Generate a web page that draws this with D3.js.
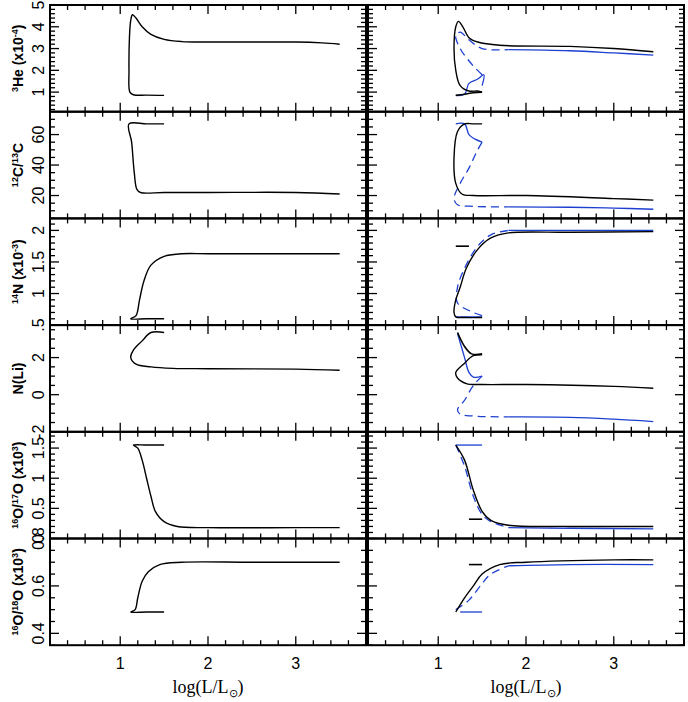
<!DOCTYPE html>
<html>
<head>
<meta charset="UTF-8">
<script src="https://d3js.org/d3.v7.min.js"></script>
<style>body{margin:0;background:#fff}</style>
</head>
<body>
<div id="chart"></div>
<script>
// row labels and axis setup
const rowLabels = [
  ["3","He (x10","-4",")"],
  ["12","C/","13","C"],
  ["14","N (x10","-3",")"],
  ["","N(Li)","",""],
  ["16","O/","17","O (x10","3",")"],
  ["16","O/","18","O (x10","3",")"]
];
const yDomains = [[0.1, 5], [5, 75], [0.5, 2.19], [-2, 3.75], [0, 1.77], [0.35, 0.8]];
const yMajor = [[1,2,3,4,5],[20,40,60],[0.5,1,1.5,2],[-2,0,2],[0,0.5,1,1.5],[0.4,0.6,0.8]];
const yMinorStep = [0.2, 5, 0.1, 0.5, 0.1, 0.05];
const yTickText = [["1","2","3","4","5"],["20","40","60"],[".5","1","1.5","2"],["-2","0","2"],["0","0.5","1","1.5"],["0.4","0.6","0.8"]];
const xTicks = [1, 2, 3];

// left panel curves (black)
const leftBlack = [
  [[1.5,0.85],[1.3,0.86],[1.15,0.88],[1.11,1.0],[1.1,2],[1.105,3.5],[1.12,4.3],[1.14,4.55],[1.18,4.4],[1.25,4.0],[1.35,3.65],[1.5,3.42],[1.7,3.32],[2,3.3],[2.5,3.3],[3,3.3],[3.3,3.26],[3.5,3.2]],
  [[1.5,67],[1.3,67],[1.1,67],[1.13,55],[1.16,35],[1.19,24],[1.23,22],[1.5,22],[2,22],[3,22],[3.5,21]],
  [[1.5,0.6],[1.3,0.6],[1.12,0.6],[1.18,0.65],[1.22,0.9],[1.27,1.2],[1.35,1.45],[1.5,1.59],[1.7,1.63],[2,1.63],[3,1.63],[3.5,1.63]],
  [[1.5,3.35],[1.35,3.35],[1.25,2.9],[1.15,2.4],[1.12,2.0],[1.18,1.65],[1.35,1.5],[1.6,1.42],[2,1.4],[3,1.38],[3.5,1.32]],
  [[1.5,1.55],[1.3,1.55],[1.15,1.55],[1.2,1.5],[1.25,1.3],[1.3,1.0],[1.35,0.7],[1.4,0.45],[1.5,0.28],[1.65,0.2],[2,0.18],[3,0.18],[3.5,0.18]],
  [[1.5,0.49],[1.3,0.49],[1.12,0.49],[1.17,0.5],[1.2,0.55],[1.25,0.62],[1.32,0.66],[1.45,0.69],[1.7,0.7],[2.5,0.7],[3.5,0.7]]
];

// right panel curves
const rightBlack = [
  [[1.5,1.0],[1.45,1.05],[1.35,1.05],[1.25,1.3],[1.2,2],[1.18,3],[1.2,4.0],[1.23,4.25],[1.28,4.0],[1.35,3.5],[1.45,3.3],[1.7,3.15],[2.5,3.1],[3,3.0],[3.45,2.85]],
  [[1.5,67],[1.4,67],[1.3,67],[1.22,62],[1.18,45],[1.2,28],[1.27,21],[1.4,20],[2,20],[3,18],[3.45,17]],
  [[1.5,0.62],[1.3,0.62],[1.2,0.63],[1.18,0.7],[1.2,0.9],[1.25,1.1],[1.32,1.4],[1.45,1.7],[1.6,1.88],[1.8,1.96],[2.5,1.97],[3.45,1.98]],
  [[1.5,2.15],[1.4,2.1],[1.3,1.7],[1.2,1.2],[1.22,0.9],[1.32,0.6],[1.5,0.55],[2,0.55],[3,0.45],[3.45,0.35]],
  [[1.2,1.55],[1.3,1.3],[1.4,0.8],[1.5,0.45],[1.6,0.3],[1.8,0.22],[2.5,0.2],[3.45,0.2]],
  [[1.2,0.49],[1.3,0.55],[1.4,0.6],[1.5,0.65],[1.7,0.69],[2,0.7],[3,0.71],[3.45,0.71]]
];
const rightBlackExtra = [
  [[1.2,0.85],[1.3,0.9],[1.4,0.97],[1.5,1.0]],
  [],
  [[1.2,1.75],[1.35,1.75]],
  [[1.22,3.35],[1.3,2.6],[1.38,2.2],[1.5,2.2]],
  [[1.35,0.32],[1.5,0.32]],
  [[1.35,0.69],[1.5,0.69]]
];
const rightBlueSolid = [
  [[1.2,0.85],[1.3,0.9],[1.35,1.4],[1.45,1.6],[1.52,1.8],[1.5,1.3]],
  [[1.2,67],[1.3,67],[1.35,60],[1.42,57],[1.5,55]],
  [[1.5,0.63],[1.3,0.63],[1.2,0.63]],
  [[1.22,3.3],[1.3,2.0],[1.35,1.2],[1.4,0.95],[1.5,1.0]],
  [[1.2,1.55],[1.5,1.55]],
  [[1.25,0.49],[1.5,0.49]]
];
const rightBlueDashed = [
  [[1.5,1.8],[1.4,2.2],[1.25,3.0],[1.2,3.6],[1.25,3.75],[1.35,3.4],[1.5,3.0],[1.8,2.95]],
  [[1.5,55],[1.45,50],[1.35,38],[1.25,28],[1.18,18],[1.22,14],[1.35,13],[1.8,12.5]],
  [[1.5,0.65],[1.4,0.7],[1.22,0.85],[1.22,1.1],[1.3,1.4],[1.45,1.75],[1.6,1.93],[1.8,2.0]],
  [[1.5,1.0],[1.4,0.5],[1.3,-0.3],[1.22,-0.8],[1.25,-1.05],[1.4,-1.15],[1.8,-1.2]],
  [[1.2,1.55],[1.3,1.2],[1.4,0.7],[1.5,0.4],[1.6,0.28],[1.8,0.18]],
  [[1.2,0.5],[1.35,0.54],[1.5,0.61],[1.6,0.65],[1.8,0.685]]
];
const rightBlueTail = [
  [[1.8,2.95],[2.5,2.9],[3,2.8],[3.45,2.7]],
  [[1.8,12.5],[2.5,12.3],[3,11.8],[3.45,11]],
  [[1.8,2.0],[2.5,2.0],[3.45,2.0]],
  [[1.8,-1.2],[2.5,-1.22],[3,-1.32],[3.45,-1.45]],
  [[1.8,0.18],[2.5,0.17],[3.45,0.16]],
  [[1.8,0.685],[2.5,0.69],[3.45,0.69]]
];

const W = 688, H = 702;
const panelX = [50, 368], panelW = 316;
const top0 = 5, rowH = 106.7;
const blue = "#1c3fd0";

const svg = d3.select("#chart").append("svg").attr("width", W).attr("height", H);

const x = d3.scaleLinear().domain([0.2, 3.8]);
const line = d3.line().curve(d3.curveCatmullRom.alpha(0.5));

for (let r = 0; r < 6; r++) {
  const y0 = top0 + r * rowH;
  const y = d3.scaleLinear().domain(yDomains[r]).range([y0 + rowH, y0]);
  const minor = d3.range(Math.ceil(yDomains[r][0] / yMinorStep[r]) * yMinorStep[r], yDomains[r][1], yMinorStep[r]);

  for (let p = 0; p < 2; p++) {
    const xs = x.copy().range([panelX[p], panelX[p] + panelW]);
    const g = svg.append("g");
    const xMinor = d3.range(0.2, 3.81, 0.2);

    xMinor.forEach(v => {
      const big = Math.abs(v - Math.round(v)) < 1e-6;
      const L = big ? 9 : 5;
      g.append("line").attr("x1", xs(v)).attr("x2", xs(v)).attr("y1", y0).attr("y2", y0 + L).attr("stroke", "#000").attr("stroke-width", 1.3);
      g.append("line").attr("x1", xs(v)).attr("x2", xs(v)).attr("y1", y0 + rowH).attr("y2", y0 + rowH - L).attr("stroke", "#000").attr("stroke-width", 1.3);
    });
    minor.forEach(v => {
      const big = yMajor[r].some(m => Math.abs(m - v) < 1e-6);
      const L = big ? 9 : 5;
      g.append("line").attr("x1", panelX[p]).attr("x2", panelX[p] + L).attr("y1", y(v)).attr("y2", y(v)).attr("stroke", "#000").attr("stroke-width", 1.3);
      g.append("line").attr("x1", panelX[p] + panelW).attr("x2", panelX[p] + panelW - L).attr("y1", y(v)).attr("y2", y(v)).attr("stroke", "#000").attr("stroke-width", 1.3);
    });

    const draw = (data, color, dash, w) => {
      if (!data.length) return;
      g.append("path").attr("d", line(data.map(d => [xs(d[0]), y(d[1])])))
        .attr("fill", "none").attr("stroke", color).attr("stroke-width", w)
        .attr("stroke-dasharray", dash);
    };
    if (p === 0) {
      draw(leftBlack[r], "#000", null, 1.4);
    } else {
      draw(rightBlueSolid[r], blue, null, 1.3);
      draw(rightBlueDashed[r], blue, "8,5", 1.3);
      draw(rightBlueTail[r], blue, null, 1.3);
      draw(rightBlack[r], "#000", null, 1.4);
      draw(rightBlackExtra[r], "#000", null, 1.6);
    }

    g.append("rect").attr("x", panelX[p]).attr("y", y0).attr("width", panelW).attr("height", rowH)
      .attr("fill", "none").attr("stroke", "#000").attr("stroke-width", 2);
  }

  yMajor[r].forEach((v, i) => {
    svg.append("text").attr("transform", `translate(44,${y(v)}) rotate(-90)`)
      .attr("text-anchor", "middle").attr("font-family", "Liberation Sans, Arial")
      .attr("font-size", 16).text(yTickText[r][i]);
  });

  const lab = svg.append("text").attr("transform", `translate(23,${y0 + rowH / 2}) rotate(-90)`)
    .attr("text-anchor", "middle").attr("font-family", "Liberation Sans, Arial")
    .attr("font-size", 14).attr("font-weight", "bold");
  rowLabels[r].forEach((s, i) => {
    if (!s) return;
    const sup = i % 2 === 0;
    lab.append("tspan").attr("font-size", sup ? 9 : 14).attr("baseline-shift", sup ? "super" : null).text(s);
  });
}

const bottom = top0 + 6 * rowH;
for (let p = 0; p < 2; p++) {
  const xs = x.copy().range([panelX[p], panelX[p] + panelW]);
  xTicks.forEach(v => {
    svg.append("text").attr("x", xs(v)).attr("y", bottom + 24).attr("text-anchor", "middle")
      .attr("font-family", "Liberation Sans, Arial").attr("font-size", 16).text(v);
  });
  const t = svg.append("text").attr("x", xs(2)).attr("y", bottom + 48).attr("text-anchor", "middle")
    .attr("font-family", "Liberation Serif, Times New Roman").attr("font-size", 18);
  t.append("tspan").text("log(L/L");
  t.append("tspan").attr("font-size", 11).attr("dy", 4).text("\u2299");
  t.append("tspan").attr("dy", -4).text(")");
}
</script>
</body>
</html>
